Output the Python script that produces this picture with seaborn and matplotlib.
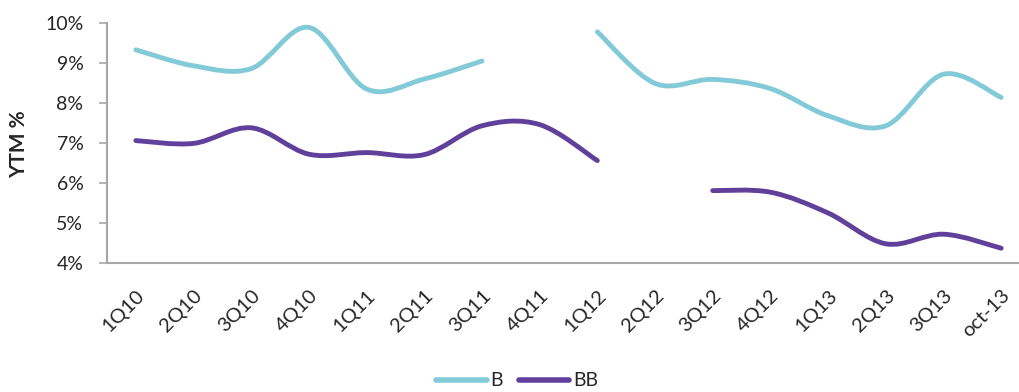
import numpy as np
import pandas as pd
import matplotlib.pyplot as plt
import seaborn as sns
from matplotlib.path import Path
from matplotlib.patches import PathPatch
from matplotlib.lines import Line2D

# data (YTM %), None = no value
quarters = ['1Q10', '2Q10', '3Q10', '4Q10', '1Q11', '2Q11', '3Q11', '4Q11',
            '1Q12', '2Q12', '3Q12', '4Q12', '1Q13', '2Q13', '3Q13', 'oct-13']
b_vals = [9.33, 8.93, 8.86, 9.89, 8.35, 8.6, 9.05, None,
          9.78, 8.49, 8.59, 8.36, 7.68, 7.43, 8.72, 8.14]
bb_vals = [7.06, 6.99, 7.38, 6.72, 6.76, 6.71, 7.43, 7.46,
           6.56, None, 5.81, 5.77, 5.25, 4.48, 4.72, 4.37]

df = pd.DataFrame({'quarter': quarters, 'B': b_vals, 'BB': bb_vals})
df['pos'] = np.arange(len(df))

colors = {'B': '#83CAD8', 'BB': '#61409B'}

sns.set_style('white')
plt.rcParams['font.family'] = ['Lato', 'DejaVu Sans']

fig = plt.figure(figsize=(10.19, 3.92), dpi=100)
ax = fig.add_axes([107 / 1019, 1 - 263 / 392, (1030 - 107) / 1019, 240 / 392])


def smooth_path(x, y):
    # Excel style smoothed line: Catmull-Rom turned into cubic Bezier pieces
    pts = np.column_stack([x, y])
    n = len(pts)
    verts = [pts[0]]
    codes = [Path.MOVETO]
    for i in range(n - 1):
        p0 = pts[max(i - 1, 0)]
        p1 = pts[i]
        p2 = pts[i + 1]
        p3 = pts[min(i + 2, n - 1)]
        verts += [p1 + (p2 - p0) / 6, p2 - (p3 - p1) / 6, p2]
        codes += [Path.CURVE4] * 3
    return Path(verts, codes)


for name in ['B', 'BB']:
    s = df[['pos', name]].copy()
    grp = s[name].isna().cumsum()
    for _, part in s.dropna().groupby(grp[s[name].notna()]):
        if len(part) < 2:
            continue
        path = smooth_path(part['pos'].to_numpy(float), part[name].to_numpy(float))
        ax.add_patch(PathPatch(path, facecolor='none', edgecolor=colors[name],
                               lw=3.5, capstyle='round', joinstyle='round'))

ax.set_xlim(-0.5, len(quarters) - 0.5)
ax.set_ylim(4, 10)
ax.set_yticks(range(4, 11))
ax.set_yticklabels([f'{v}%' for v in range(4, 11)], fontsize=14, color='#262626')
ax.set_xticks(df['pos'])
ax.set_xticklabels(quarters, rotation=45, ha='right', va='top',
                   rotation_mode='anchor', fontsize=14.5, color='#262626')
ax.set_xticks(np.arange(-0.5, len(quarters) - 0.5, 1), minor=True)
ax.tick_params(axis='x', which='major', length=0, pad=17)
ax.tick_params(axis='x', which='minor', length=6, width=1.2, color='#A6A6A6', direction='out')
ax.tick_params(axis='y', length=6, width=1.2, color='#A6A6A6', direction='out', left=True, pad=11)
ax.set_ylabel('YTM %', fontsize=15, fontweight='bold')
ax.yaxis.set_label_coords((29 - 107) / 923, 0.496)
ax.set_xlabel('')

sns.despine(ax=ax)
for side in ['left', 'bottom']:
    ax.spines[side].set_color('#A6A6A6')
    ax.spines[side].set_linewidth(1.5)

handles = [Line2D([], [], color=colors[k], lw=4) for k in ['B', 'BB']]
fig.legend(handles, ['B', 'BB'], loc='center', bbox_to_anchor=(517 / 1019, 1 - 381 / 392),
           ncol=2, frameon=False, fontsize=14, handlelength=2.6, handletextpad=0.2,
           columnspacing=0.8)

fig.savefig('out.png', dpi=100)
